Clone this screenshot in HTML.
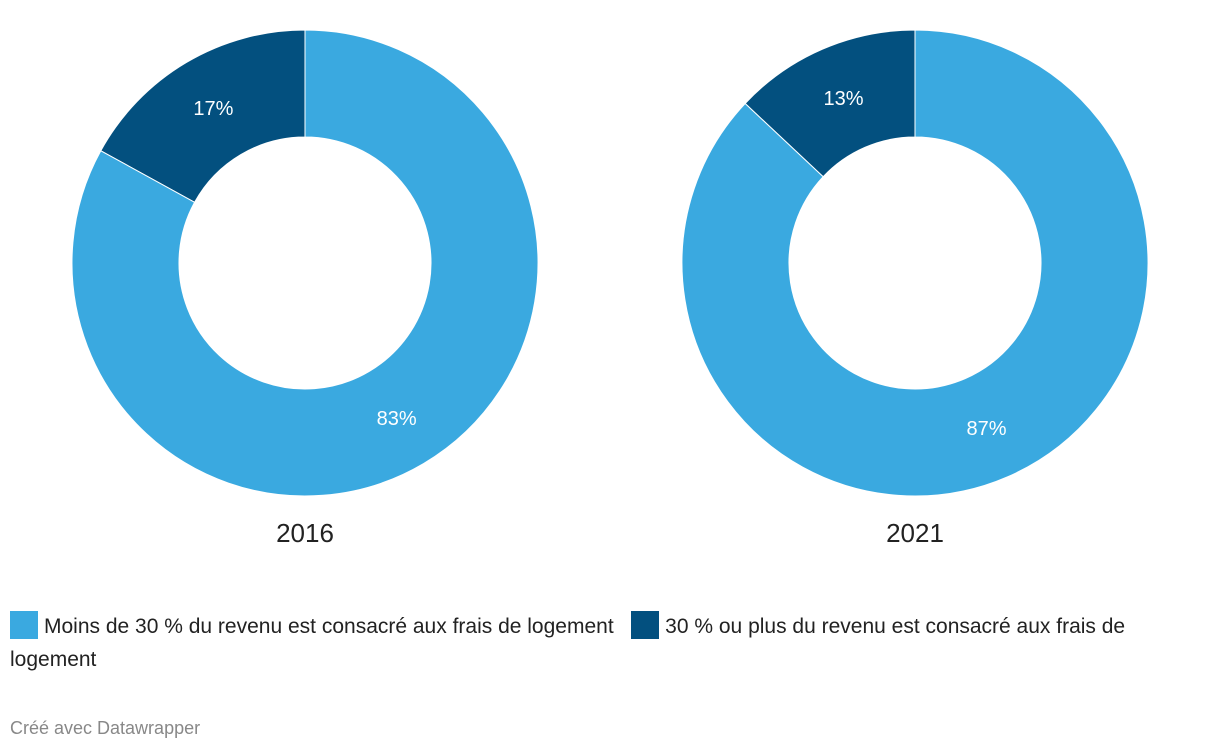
<!DOCTYPE html>
<html><head><meta charset="utf-8"><style>
body{margin:0;width:1220px;height:754px;background:#fff;font-family:"Liberation Sans",sans-serif;overflow:hidden;position:relative}
.leg{position:absolute;left:10px;top:610px;width:1200px;font-size:21px;line-height:33px;color:#222}
.sw{display:inline-block;width:28px;height:28px;vertical-align:-6px;margin-right:6px}
.foot{position:absolute;left:10px;top:718px;font-size:18px;color:#888}
</style></head><body>
<svg id="chart" width="1220" height="600" style="position:absolute;left:0;top:0"></svg>
<div class="leg"><span><span class="sw" style="background:#3aa9e0"></span>Moins de 30 % du revenu est consacré aux frais de logement</span>&nbsp;&nbsp; <span><span class="sw" style="background:#03507f"></span>30 % ou plus du revenu est consacré aux frais de logement</span></div>
<div class="foot">Créé avec Datawrapper</div>
<script>
const years=["2016","2021"];
const darkShare=[17,13];
const lightShare=[83,87];
const svg=document.getElementById('chart');
const NS="http://www.w3.org/2000/svg";
const centersX=[305,915], cy=263, R=233, r=126, LR=180;
function pt(cx,a,rad){return [cx+rad*Math.sin(a),cy-rad*Math.cos(a)];}
function arc(cx,a0,a1){
  const large=(a1-a0)>Math.PI?1:0;
  const [x0,y0]=pt(cx,a0,R),[x1,y1]=pt(cx,a1,R),[x2,y2]=pt(cx,a1,r),[x3,y3]=pt(cx,a0,r);
  return `M${x0},${y0}A${R},${R} 0 ${large} 1 ${x1},${y1}L${x2},${y2}A${r},${r} 0 ${large} 0 ${x3},${y3}Z`;
}
years.forEach((y,i)=>{
  const cx=centersX[i];
  const tot=darkShare[i]+lightShare[i];
  const d=darkShare[i]/tot*2*Math.PI;
  const segs=[{a0:-d,a1:0,c:"#03507f",v:darkShare[i],n:'slice-30-or-more-'+y},{a0:0,a1:2*Math.PI-d,c:"#3aa9e0",v:lightShare[i],n:'slice-under-30-'+y}];
  segs.forEach(s=>{
    const p=document.createElementNS(NS,'path');
    p.setAttribute('d',arc(cx,s.a0,s.a1));
    p.setAttribute('fill',s.c);p.setAttribute('stroke','#fff');p.setAttribute('stroke-width','1');
    
    
    svg.appendChild(p);
    const [lx,ly]=pt(cx,(s.a0+s.a1)/2,LR);
    const t=document.createElementNS(NS,'text');
    t.setAttribute('x',lx);t.setAttribute('y',ly+7);t.setAttribute('text-anchor','middle');
    t.setAttribute('fill','#fff');t.setAttribute('font-size','20');
    t.textContent=s.v+'%';
    
    
    svg.appendChild(t);
  });
  const t=document.createElementNS(NS,'text');
  t.setAttribute('x',cx);t.setAttribute('y',542);t.setAttribute('text-anchor','middle');
  t.setAttribute('fill','#222');t.setAttribute('font-size','26');
  t.textContent=y;
  
  
  svg.appendChild(t);
});
</script>
</body></html>
